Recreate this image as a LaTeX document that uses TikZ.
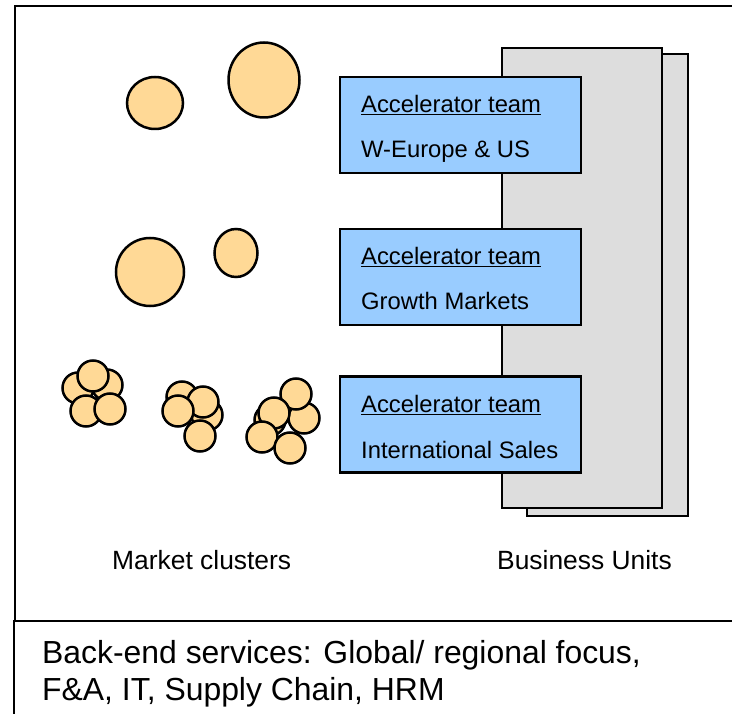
\documentclass[tikz,border=0pt]{standalone}
\usepackage{fontspec}
\setmainfont{Liberation Sans}
\usetikzlibrary{positioning,shapes.geometric}

\definecolor{clusterfill}{HTML}{FFD996}
\definecolor{teamfill}{HTML}{99CCFF}
\definecolor{unitfill}{HTML}{DDDDDD}

\tikzset{
  market/.style={ellipse,draw,line width=2.5pt,fill=clusterfill,inner sep=0pt},
  small/.style={circle,draw,line width=2.5pt,fill=clusterfill,inner sep=0pt,minimum size=31pt},
  team/.style={draw,line width=2.5pt,fill=teamfill,inner sep=0pt,minimum width=241pt,minimum height=96pt},
  unit/.style={draw,line width=2.5pt,fill=unitfill,inner sep=0pt,minimum width=160pt,minimum height=460pt},
  teamtext/.style={anchor=base west,inner sep=0pt,font=\fontsize{23.8}{28}\selectfont},
  caption/.style={anchor=base west,inner sep=0pt,font=\fontsize{26.4}{30}\selectfont},
  frame/.style={line width=2.5pt}
}

\begin{document}
\begin{tikzpicture}[x=1pt,y=-1pt]
    \useasboundingbox (0,0) rectangle (732,714);

    \draw[frame] (740,6) -- (15,6) -- (15,660);

    \node[unit,minimum width=161pt,minimum height=462pt] (unitback) at (607.5,285) {};
    \node[unit] (unitfront) at (582,278) {};

    \node[team] (teamwest) at (460.5,125) {};
    \node[team] (teamgrowth) at (460.5,277) {};
    \node[team] (teamintl) at (460.5,424.5) {};

    \node[teamtext] (headwest) at (361,113) {\underline{Accelerator team}};
    \node[teamtext] (namewest) at (361,158) {W-Europe \& US};
    \node[teamtext] (headgrowth) at (361,265) {\underline{Accelerator team}};
    \node[teamtext] (namegrowth) at (361,310) {Growth Markets};
    \node[teamtext] (headintl) at (361,413) {\underline{Accelerator team}};
    \node[teamtext] (nameintl) at (361,458) {International Sales};

    \node[market,minimum width=56pt,minimum height=52pt] (mktA) at (155,103) {};
    \node[market,minimum width=71pt,minimum height=75pt] (mktB) at (264,80) {};
    \node[market,minimum width=68pt,minimum height=68pt] (mktC) at (150,272) {};
    \node[market,minimum width=43pt,minimum height=48pt] (mktD) at (236,253) {};

    \begin{scope}
    \node[small] (ca1) at (78,388) {};
    \node[small] (ca2) at (107,385) {};
    \node[small] (ca3) at (93,376) {};
    \node[small] (ca4) at (86,411) {};
    \node[small] (ca5) at (110,409) {};
    \end{scope}

    \begin{scope}
    \node[small] (cb1) at (182,397) {};
    \node[small] (cb2) at (207,415) {};
    \node[small] (cb3) at (203,402) {};
    \node[small] (cb4) at (178,411) {};
    \node[small] (cb5) at (200,436) {};
    \end{scope}

    \begin{scope}
    \node[small] (cc1) at (270,420) {};
    \node[small] (cc2) at (304,418) {};
    \node[small] (cc3) at (296,394) {};
    \node[small] (cc4) at (274,413) {};
    \node[small] (cc5) at (262,437) {};
    \node[small] (cc6) at (290,448) {};
    \end{scope}

    \node[caption] (clusters) at (112,569) {Market clusters};
    \node[caption] (units) at (497,569) {Business Units};

    \fill[white] (14,621) rectangle (740,720);
    \draw[frame] (740,621) -- (14,621) -- (14,720);
    \node[caption,font=\fontsize{31.9}{38}\selectfont] (backend) at (42,663) {Back-end services: Global/ regional focus,};
    \node[caption,font=\fontsize{31.9}{38}\selectfont] (functions) at (42,700) {F\&A, IT, Supply Chain, HRM};
\end{tikzpicture}
\end{document}
